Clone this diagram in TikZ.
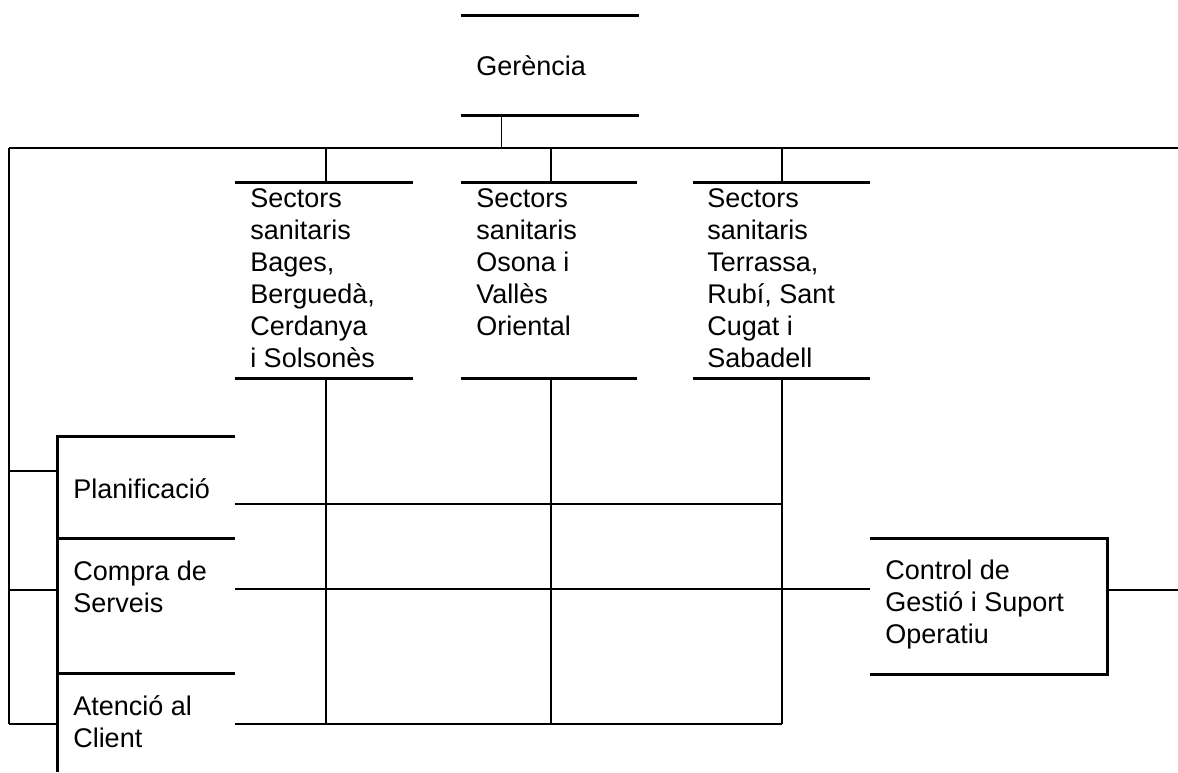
\documentclass[tikz,border=0pt]{standalone}
\usepackage{fontspec}
\setmainfont{Liberation Sans}
\usetikzlibrary{calc,fit}
\begin{document}
\begin{tikzpicture}[x=0.75pt,y=-0.75pt,
  bar/.style={line width=2.5pt, line cap=butt},
  conn/.style={line width=1.1pt},
  gridline/.style={line width=0.85pt},
  area/.style={inner sep=0pt, draw=none},
  lbl/.style={anchor=north west, inner sep=0pt, align=left,
              execute at begin node=\strut,
              font=\fontsize{20.25pt}{24pt}\selectfont}]
% canvas
\fill[white] (0,0) rectangle (1178,772);
\useasboundingbox (0,0) rectangle (1178,772);

% box areas
\node[area, fit={(461,16) (639,115)}] (ger) {};
\node[area, fit={(235,183) (413,378)}] (s1) {};
\node[area, fit={(461,183) (637,378)}] (s2) {};
\node[area, fit={(693,183) (870,378)}] (s3) {};
\node[area, fit={(58,437) (235,539)}] (plan) {};
\node[area, fit={(58,539) (235,674)}] (comp) {};
\node[area, fit={(58,674) (235,772)}] (aten) {};
\node[area, fit={(870,539) (1107,674)}] (ctrl) {};

% texts (top of strut = baseline - 22.4px)
\node[lbl] (gertxt) at (476,52.6) {Gerència};
\node[lbl] (s1txt) at (250,188.6) {Sectors\\sanitaris\\Bages,\\Berguedà,\\Cerdanya\\i Solsonès};
\node[lbl] (s2txt) at (476,188.6) {Sectors\\sanitaris\\Osona i\\Vallès\\Oriental};
\node[lbl] (s3txt) at (707,188.6) {Sectors\\sanitaris\\Terrassa,\\Rubí, Sant\\Cugat i\\Sabadell};
\node[lbl] (plantxt) at (73,475.6) {Planificació};
\node[lbl] (comptxt) at (73,560.6) {Compra de\\Serveis};
\node[lbl] (atentxt) at (73,695.6) {Atenció al\\Client};
\node[lbl] (ctrltxt) at (885,559.6) {Control de\\Gestió i Suport\\Operatiu};

% thick bars
\foreach \b in {ger,s1,s2,s3}{
  \draw[bar] (\b.north west) -- (\b.north east);
  \draw[bar] (\b.south west) -- (\b.south east);
}
\draw[bar, line join=miter] (plan.north east) -- (plan.north west) -- (aten.south west);
\draw[bar] (comp.north west) -- (comp.north east);
\draw[bar] (aten.north west) -- (aten.north east);
\draw[bar, line join=miter] (ctrl.north west) -- (ctrl.north east) -- (ctrl.south east) -- (ctrl.south west);

% bus and connectors
\coordinate (busL) at (9,148);
\coordinate (busR) at (1178,148);
\draw[conn] (busL) -- (busR);
\coordinate (gdrop) at ($(ger.south west)+(41,0)$);
\draw[conn] (gdrop) -- (gdrop |- busL);
\coordinate (x1) at (326,0);
\coordinate (x2) at (551,0);
\coordinate (x3) at (782,0);
\draw[conn] (x1 |- busL) -- (x1 |- s1.north);
\draw[conn] (x2 |- busL) -- (x2 |- s2.north);
\draw[conn] (x3 |- busL) -- (x3 |- s3.north);

% left spine and ticks
\coordinate (t1) at (9,471);
\coordinate (t2) at (9,590);
\coordinate (t3) at (9,724);
\draw[conn] (busL) -- (t3);
\draw[conn] (t1) -- (t1 -| plan.west);
\draw[conn] (t2) -- (t2 -| comp.west);
\draw[conn] (t3) -- (t3 -| aten.west);

% grid
\coordinate (r1) at (235,504);
\coordinate (r2) at (235,589);
\coordinate (r3) at (235,724);
\draw[gridline] (r1) -- (r1 -| x3);
\draw[gridline] (r2) -- (r2 -| x3);
\draw[gridline] (r3) -- (r3 -| x3);
\draw[gridline] (x1 |- s1.south) -- (x1 |- r3);
\draw[gridline] (x2 |- s2.south) -- (x2 |- r3);
\draw[gridline] (x3 |- s3.south) -- (x3 |- r3);
\draw[gridline] (r2 -| x3) -- (r2 -| ctrl.west);
\coordinate (re) at (1178,590);
\draw[conn] (re -| ctrl.east) -- (re);
\end{tikzpicture}
\end{document}
